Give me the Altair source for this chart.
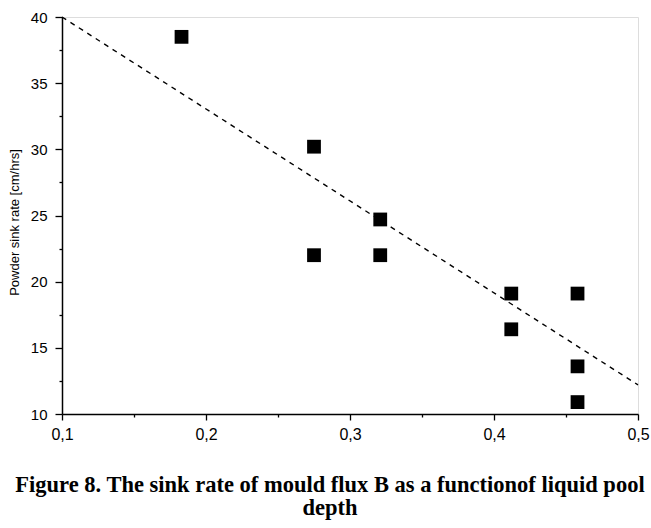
import altair as alt
import pandas as pd

depth = [0.183, 0.275, 0.275, 0.321, 0.321, 0.412, 0.412, 0.458, 0.458, 0.458]
sink_rate = [38.5, 30.2, 22.0, 24.7, 22.0, 19.1, 16.4, 19.1, 13.6, 10.9]

fit_x = [0.1, 0.5]
fit_y = [40.0, 12.2]

major_x = [0.1, 0.2, 0.3, 0.4, 0.5]
minor_x = [0.15, 0.25, 0.35, 0.45]
major_y = [10, 15, 20, 25, 30, 35, 40]
minor_y = [12.5, 17.5, 22.5, 27.5, 32.5, 37.5]

pts = pd.DataFrame({"depth": depth, "rate": sink_rate})
fit = pd.DataFrame({"depth": fit_x, "rate": fit_y})

xscale = alt.Scale(domain=[0.1, 0.5], nice=False, zero=False)
yscale = alt.Scale(domain=[10, 40], nice=False, zero=False)

label_font = "Liberation Sans"

x_major = alt.Axis(values=major_x, labelExpr="replace(format(datum.value, '.1f'), '.', ',')",
                   title=None, tickSize=6, labelFontSize=16, labelFont=label_font,
                   labelColor="black", tickColor="black", domainColor="black", labelFlush=False,
                   tickWidth=1.3, domainWidth=1.5, grid=False, labelPadding=6, orient="bottom")
x_minor = alt.Axis(values=minor_x, labels=False, title=None, tickSize=3, tickColor="black",
                   tickWidth=1.3, domain=False, grid=False, orient="bottom")
y_major = alt.Axis(values=major_y, title="Powder sink rate [cm/hrs]", tickSize=7,
                   labelFontSize=15, labelFont=label_font, labelColor="black", labelFlush=False,
                   titleFont=label_font, titleFontSize=13, titleFontWeight="normal",
                   titleColor="black", titlePadding=9, titleY=205,
                   tickColor="black", domainColor="black", tickWidth=1.3, domainWidth=1.5,
                   grid=False, labelPadding=8, orient="left")
y_minor = alt.Axis(values=minor_y, labels=False, title=None, tickSize=3, tickColor="black",
                   tickWidth=1.3, domain=False, grid=False, orient="left")

points = alt.Chart(pts).mark_square(size=190, color="black", opacity=1).encode(
    x=alt.X("depth:Q", scale=xscale, axis=x_major),
    y=alt.Y("rate:Q", scale=yscale, axis=y_major),
)

line = alt.Chart(fit).mark_line(color="black", strokeDash=[5, 5], strokeWidth=1.4).encode(
    x=alt.X("depth:Q", scale=xscale, axis=x_minor),
    y=alt.Y("rate:Q", scale=yscale, axis=y_minor),
)

chart = alt.layer(points, line).resolve_axis(x="independent", y="independent").properties(
    width=576,
    height=397,
    padding={"left": 62, "top": 17, "right": 13, "bottom": 114},
    autosize=alt.AutoSizeParams(type="none"),
    title=alt.TitleParams(
        text=["Figure 8. The sink rate of mould flux B as a functionof liquid pool", "depth"],
        orient="bottom", anchor="middle", font="Liberation Serif", fontSize=22.5,
        fontWeight="bold", color="black", offset=32, lineHeight=23, dx=-20,
    ),
).configure_view(stroke="black", strokeWidth=1.5).configure(background="white")

chart.save("out.html", embed_options={"renderer": "svg", "actions": False})
